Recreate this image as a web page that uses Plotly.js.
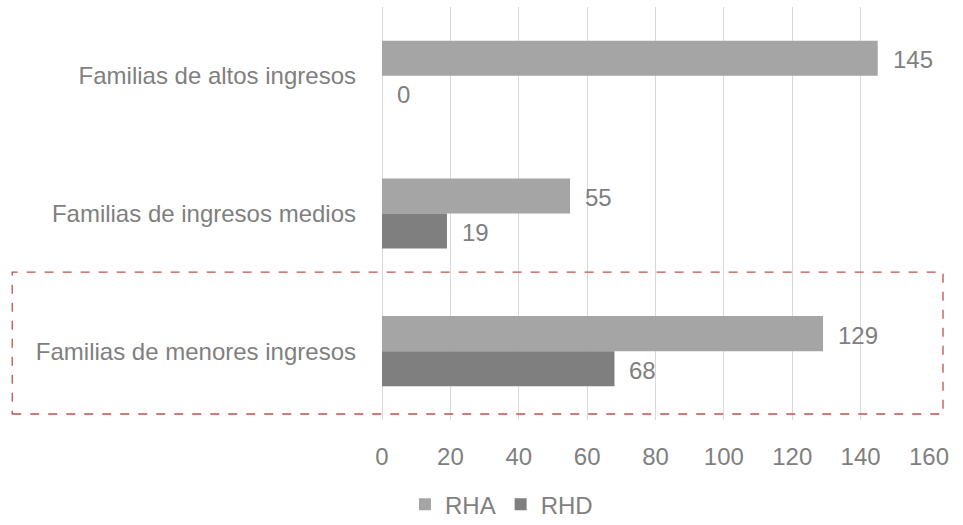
<!DOCTYPE html>
<html>
<head>
<meta charset="utf-8">
<script src="https://cdn.plot.ly/plotly-3.0.1.min.js"></script>
<style>html,body{margin:0;padding:0;background:#fff;}#chart{width:963px;height:525px;}</style>
</head>
<body>
<div id="chart"></div>
<script>
var categories = ["Familias de altos ingresos", "Familias de ingresos medios", "Familias de menores ingresos"];
var seriesNames = ["RHA", "RHD"];
var rhaValues = [145, 55, 129];
var rhdValues = [0, 19, 68];
var xTicks = [0, 20, 40, 60, 80, 100, 120, 140, 160];

var FONT = '"Liberation Sans", Arial, sans-serif';
var TXT = '#7f7f7f';
var colors = ['#a5a5a5', '#7f7f7f'];
var series = [rhaValues, rhdValues];

var traces = series.map(function (vals, i) {
  return {
    type: 'bar', orientation: 'h', name: seriesNames[i],
    y: categories, x: vals,
    marker: {color: colors[i], line: {width: 0}},
    hoverinfo: 'x'
  };
});

var annotations = [];
series.forEach(function (vals, i) {
  vals.forEach(function (v, j) {
    annotations.push({
      x: v, y: categories[j], xref: 'x', yref: 'y',
      text: String(v), showarrow: false,
      xanchor: 'left', yanchor: 'middle',
      xshift: 13, yshift: (i === 0 ? 16 : -19),
      font: {family: FONT, size: 24, color: TXT}
    });
  });
});

var layout = {
  width: 963, height: 525,
  margin: {l: 382, r: 34, t: 7, b: 105, autoexpand: false},
  paper_bgcolor: '#fff', plot_bgcolor: '#fff',
  barmode: 'group', bargap: 0.49, bargroupgap: 0,
  font: {family: FONT, size: 24, color: TXT},
  xaxis: {
    range: [0, 160], tickvals: xTicks, ticktext: xTicks.map(String),
    showgrid: true, gridcolor: '#d9d9d9', gridwidth: 1,
    zeroline: true, zerolinecolor: '#d9d9d9', zerolinewidth: 1,
    showline: false, ticks: '', ticklabelstandoff: 20,
    tickfont: {family: FONT, size: 24, color: TXT}, fixedrange: true
  },
  yaxis: {
    type: 'category', autorange: 'reversed',
    showgrid: false, zeroline: false, showline: false, ticks: '',
    ticklabelstandoff: 25,
    tickfont: {family: FONT, size: 24, color: TXT}, fixedrange: true
  },
  legend: {
    orientation: 'h', x: 0.042, xanchor: 'left', y: -0.205, yanchor: 'middle',
    font: {family: FONT, size: 24, color: TXT}, itemclick: false, traceorder: 'normal'
  },
  shapes: [{
    type: 'rect', xref: 'paper', yref: 'paper',
    x0: -0.676, x1: 1.0256, y0: 0.0145, y1: 0.358,
    line: {color: '#c0504d', width: 1.3, dash: 'dash'}, fillcolor: 'rgba(0,0,0,0)'
  }],
  annotations: annotations,
  showlegend: true
};

Plotly.newPlot('chart', traces, layout, {displayModeBar: false, staticPlot: true});
</script>
</body>
</html>
